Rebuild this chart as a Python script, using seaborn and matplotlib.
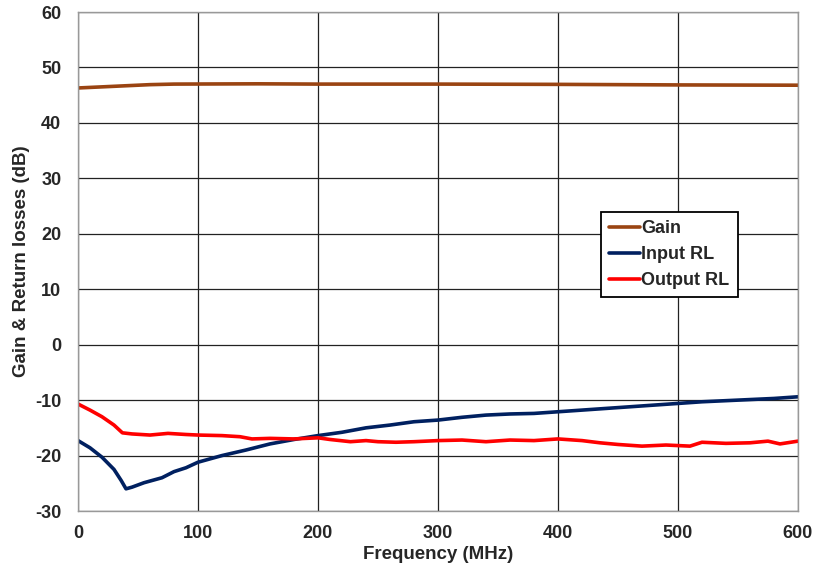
import matplotlib
matplotlib.use("Agg")
import matplotlib.pyplot as plt
import seaborn as sns
import pandas as pd

gain_freq = [0, 20, 40, 60, 80, 150, 200, 300, 400, 500, 600]
gain_db = [46.3, 46.5, 46.7, 46.9, 47.0, 47.05, 47.0, 47.0, 46.95, 46.85, 46.8]

in_freq = [0, 10, 20, 30, 36, 40, 45, 55, 70, 80, 90, 100, 120, 140, 160, 180,
           200, 220, 240, 260, 280, 300, 320, 340, 360, 380, 400, 420, 440, 460,
           480, 500, 520, 540, 560, 580, 600]
in_rl = [-17.3, -18.6, -20.3, -22.5, -24.5, -26.0, -25.7, -24.9, -24.0, -22.9,
         -22.2, -21.2, -20.0, -19.0, -17.9, -17.1, -16.4, -15.8, -15.0, -14.5,
         -13.9, -13.6, -13.1, -12.7, -12.5, -12.4, -12.1, -11.8, -11.5, -11.2,
         -10.9, -10.6, -10.3, -10.1, -9.9, -9.7, -9.4]

out_freq = [0, 10, 20, 30, 37, 45, 60, 75, 90, 100, 120, 135, 145, 160, 180,
            200, 210, 227, 240, 250, 265, 280, 300, 320, 340, 360, 380, 400,
            420, 435, 450, 470, 490, 510, 520, 540, 560, 575, 585, 600]
out_rl = [-10.7, -11.8, -13.0, -14.5, -15.9, -16.1, -16.3, -16.0, -16.2, -16.3,
          -16.4, -16.6, -17.0, -16.9, -17.0, -16.8, -17.1, -17.5, -17.3, -17.5,
          -17.6, -17.5, -17.3, -17.2, -17.5, -17.2, -17.3, -17.0, -17.3, -17.7,
          -18.0, -18.3, -18.1, -18.3, -17.6, -17.8, -17.7, -17.4, -17.9, -17.4]

x_ticks = [0, 100, 200, 300, 400, 500, 600]
y_ticks = [-30, -20, -10, 0, 10, 20, 30, 40, 50, 60]

sns.set_theme(style="white")
plt.rcParams['font.family'] = ['Liberation Sans', 'DejaVu Sans']
plt.rcParams['axes.unicode_minus'] = False

fig = plt.figure(figsize=(8.15, 5.75), dpi=100)
ax = fig.add_axes([0.0957, 0.1113, 0.8834, 0.8678])

lw = 2.6
sns.lineplot(x=gain_freq, y=gain_db, ax=ax, color='#9A4412', lw=lw, label='Gain')
sns.lineplot(x=in_freq, y=in_rl, ax=ax, color='#002060', lw=lw, label='Input RL')
sns.lineplot(x=out_freq, y=out_rl, ax=ax, color='#FF0000', lw=lw, label='Output RL')

ax.set_xlim(0, 600)
ax.set_ylim(-30, 60)
ax.set_xticks(x_ticks)
ax.set_yticks(y_ticks)
ax.grid(True, color='#222222', lw=0.9)
ax.set_axisbelow(True)
for s in ax.spines.values():
    s.set_color('#999999')
    s.set_linewidth(1.0)
ax.tick_params(axis='both', length=0, labelsize=13)
ax.tick_params(axis='x', pad=10)
ax.tick_params(axis='y', pad=12)
for lab in ax.get_xticklabels() + ax.get_yticklabels():
    lab.set_fontweight('bold')
ax.set_xlabel('Frequency (MHz)', fontsize=13.5, fontweight='bold', labelpad=3)
ax.set_ylabel('Gain & Return losses (dB)', fontsize=13.5, fontweight='bold', labelpad=4)

leg = ax.legend(loc='upper left', bbox_to_anchor=(0.726, 0.599), frameon=True,
                fancybox=False, edgecolor='black', framealpha=1,
                prop={'weight': 'bold', 'size': 13}, handlelength=1.7,
                handletextpad=0.1, borderpad=0.45, labelspacing=0.5,
                borderaxespad=0)
leg.get_frame().set_linewidth(1.3)

fig.savefig('out.png', dpi=100)
